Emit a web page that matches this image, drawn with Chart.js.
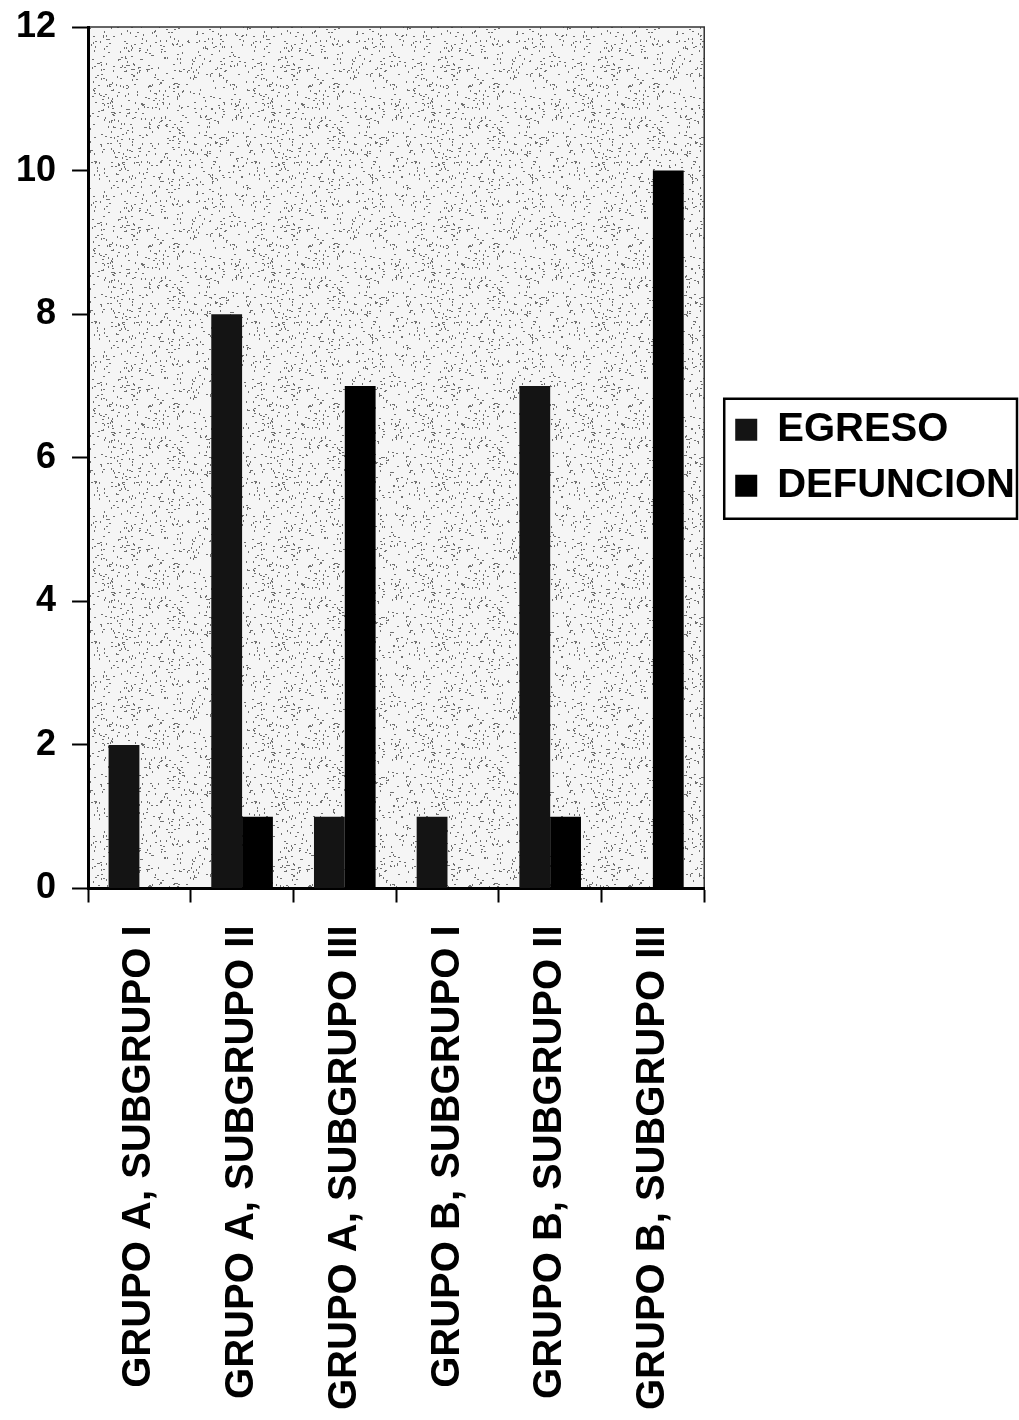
<!DOCTYPE html>
<html>
<head>
<meta charset="utf-8">
<script src="https://cdn.jsdelivr.net/npm/chart.js@4.4.1/dist/chart.umd.min.js"></script>
<style>
  html, body { margin: 0; padding: 0; background: #ffffff; }
  #wrap { width: 1019px; height: 1420px; }
</style>
</head>
<body>
<div id="wrap"><canvas id="chart" width="1019" height="1420"></canvas></div>
<script>
// Categories and series values
const categories = [
  'GRUPO A, SUBGRUPO I',
  'GRUPO A, SUBGRUPO II',
  'GRUPO A, SUBGRUPO III',
  'GRUPO B, SUBGRUPO I',
  'GRUPO B, SUBGRUPO II',
  'GRUPO B, SUBGRUPO III'
];
const seriesNames = ['EGRESO', 'DEFUNCION'];
const egreso = [2, 8, 1, 1, 7, 0];
const defuncion = [0, 1, 7, 0, 1, 10];
const yTicks = [0, 2, 4, 6, 8, 10, 12];

// Stippled grey texture for the plot area (fixed seed so it is the same every time)
function makeStipple(ctx) {
  const size = 160;
  const c = document.createElement('canvas');
  c.width = size; c.height = size;
  const g = c.getContext('2d');
  g.fillStyle = '#f5f5f5';
  g.fillRect(0, 0, size, size);
  let s = 12345;
  const next = () => { s = (s * 1103515245 + 12345) & 0x7fffffff; return s / 0x7fffffff; };
  g.fillStyle = '#707070';
  for (let i = 0; i < 800; i++) {
    const x = Math.floor(next() * size);
    const y = Math.floor(next() * size);
    const horiz = next() < 0.5;
    g.fillRect(x, y, horiz ? 2 : 1, horiz ? 1 : 2);
  }
  return ctx.createPattern(c, 'repeat');
}

// Plot-area fill with a thin frame
const plotBackground = {
  id: 'plotBackground',
  beforeDraw(chart) {
    const { ctx, chartArea: a } = chart;
    ctx.save();
    ctx.fillStyle = makeStipple(ctx);
    ctx.fillRect(a.left, a.top, a.right - a.left, a.bottom - a.top);
    ctx.strokeStyle = '#333';
    ctx.lineWidth = 1.5;
    ctx.strokeRect(a.left, a.top, a.right - a.left, a.bottom - a.top);
    ctx.restore();
  }
};

// Legend sits a little away from the plot, inside a framed box
const legendPlacement = {
  id: 'legendPlacement',
  afterLayout(chart) {
    const lg = chart.legend;
    if (!lg) return;
    lg.left += 15;
    lg.right += 15;
  },
  afterDraw(chart) {
    const lg = chart.legend;
    if (!lg || !lg.legendHitBoxes || !lg.legendHitBoxes.length) return;
    let l = Infinity, t = Infinity, b = -Infinity;
    lg.legendHitBoxes.forEach(h => {
      l = Math.min(l, h.left); t = Math.min(t, h.top);
      b = Math.max(b, h.top + h.height);
    });
    const ctx = chart.ctx;
    ctx.save();
    ctx.strokeStyle = '#000';
    ctx.lineWidth = 2.5;
    ctx.strokeRect(l - 11, t - 11, chart.width - 2 - (l - 11), (b - t) + 24);
    ctx.restore();
  }
};

new Chart(document.getElementById('chart'), {
  type: 'bar',
  data: {
    labels: categories,
    datasets: [
      { label: seriesNames[0], data: egreso, backgroundColor: '#141414', borderWidth: 0 },
      { label: seriesNames[1], data: defuncion, backgroundColor: '#000000', borderWidth: 0 }
    ]
  },
  options: {
    responsive: false,
    animation: false,
    devicePixelRatio: 1,
    layout: { padding: { top: 27, left: 0, right: 9, bottom: -13 } },
    datasets: { bar: { categoryPercentage: 0.6, barPercentage: 1.0 } },
    plugins: {
      tooltip: { enabled: false },
      legend: {
        position: 'right',
        fullSize: false,
        maxWidth: 330,
        labels: {
          color: '#000',
          font: { family: 'Liberation Sans, Arial, sans-serif', size: 40, weight: 'bold' },
          boxWidth: 22,
          boxHeight: 22,
          padding: 16
        }
      }
    },
    scales: {
      x: {
        grid: {
          offset: true,
          drawOnChartArea: false,
          drawTicks: true,
          tickLength: 14,
          tickWidth: 2,
          tickColor: '#000'
        },
        border: { display: true, color: '#000', width: 3 },
        ticks: {
          color: '#000',
          minRotation: 90,
          maxRotation: 90,
          autoSkip: false,
          padding: 23,
          font: { family: 'Liberation Sans, Arial, sans-serif', size: 40, weight: 'bold' }
        }
      },
      y: {
        min: 0,
        max: 12,
        afterBuildTicks(scale) { scale.ticks = yTicks.map(v => ({ value: v })); },
        afterFit(scale) { scale.paddingTop = 0; },
        grid: {
          drawOnChartArea: false,
          drawTicks: true,
          tickLength: 16,
          tickWidth: 2,
          tickColor: '#000'
        },
        border: { display: true, color: '#000', width: 3 },
        ticks: {
          color: '#000',
          padding: 16,
          font: { family: 'Liberation Sans, Arial, sans-serif', size: 36, weight: 'bold' }
        }
      }
    }
  },
  plugins: [plotBackground, legendPlacement]
});
</script>
</body>
</html>
